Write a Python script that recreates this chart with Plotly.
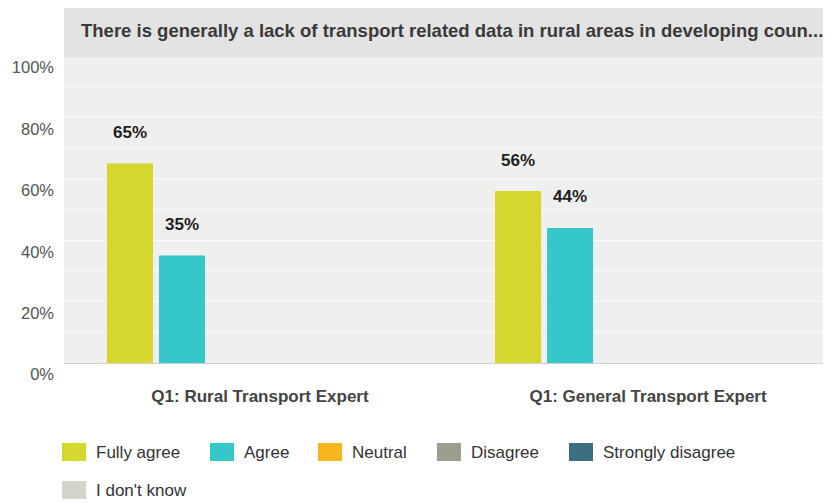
import plotly.graph_objects as go

# survey data
categories = ["Q1: Rural Transport Expert", "Q1: General Transport Expert"]
answers = ["Fully agree", "Agree", "Neutral", "Disagree", "Strongly disagree", "I don't know"]
fully_agree = [65, 56]
agree = [35, 44]
neutral = [0, 0]
disagree = [0, 0]
strongly_disagree = [0, 0]
dont_know = [0, 0]
series_values = [fully_agree, agree, neutral, disagree, strongly_disagree, dont_know]
colors = ["#d5d62e", "#35c7c9", "#f7b51e", "#9b9d8d", "#3b6e80", "#d5d5cc"]
y_ticks = [0, 20, 40, 60, 80, 100]
y_tick_labels = ["0%", "20%", "40%", "60%", "80%", "100%"]
title_text = "There is generally a lack of transport related data in rural areas in developing coun..."

W, H = 831, 503
OFF = 8  # page body margin of the browser
ML, MR, MT, MB = 64 - OFF, 0, 56 - OFF, H - (363 - OFF)
PLOT_W = W - ML - MR
PLOT_H = H - MT - MB
BARGAP = 0.196
XRANGE = [-0.505, 1.492]
FONT = "Liberation Sans, Arial, Helvetica, sans-serif"


# pixel positions measured on the screenshot -> paper coords
def px_x(p):
    return (p - OFF - ML) / PLOT_W


def px_y(p):
    return (H - MB - (p - OFF)) / PLOT_H


fig = go.Figure()
for name, vals, col in zip(answers, series_values, colors):
    fig.add_trace(go.Bar(name=name, x=categories, y=vals, marker_color=col,
                         marker_line_width=0, showlegend=False, hoverinfo="skip"))

# value labels above bars
cat_px = PLOT_W / (XRANGE[1] - XRANGE[0])
pitch = cat_px * (1 - BARGAP) / len(answers)
for i, vals in enumerate(series_values):
    for cat, v in zip(categories, vals):
        if v > 0:
            fig.add_annotation(x=cat, y=v, text="<b>%d%%</b>" % v, showarrow=False,
                               xshift=(i - 2.5) * pitch, yshift=31, yanchor="middle",
                               font=dict(family=FONT, size=17, color="#1e1e1e"))

# grey title band
fig.add_shape(type="rect", xref="paper", yref="paper", x0=0, x1=1,
              y0=px_y(57), y1=px_y(7), fillcolor="#e3e3e3", line_width=0, layer="above")
fig.add_annotation(xref="paper", yref="paper", x=px_x(79), y=px_y(31), xanchor="left",
                   yanchor="middle", showarrow=False, text="<b>%s</b>" % title_text,
                   font=dict(family=FONT, size=18.5, color="#3a3a3a"))

# legend drawn by hand so the swatches match
leg_x = [62, 210, 318, 437, 569, 62]
leg_y = [452, 452, 452, 452, 452, 490]
for name, col, lx, ly in zip(answers, colors, leg_x, leg_y):
    fig.add_shape(type="rect", xref="paper", yref="paper", x0=px_x(lx), x1=px_x(lx + 24),
                  y0=px_y(ly + 9), y1=px_y(ly - 9), fillcolor=col, line_width=0)
    fig.add_annotation(xref="paper", yref="paper", x=px_x(lx + 32), y=px_y(ly),
                       xanchor="left", yanchor="middle", showarrow=False, text=name,
                       font=dict(family=FONT, size=17, color="#333333"))

fig.update_layout(
    width=W, height=H,
    margin=dict(l=ML, r=MR, t=MT, b=MB),
    barmode="group", bargap=BARGAP, bargroupgap=0.115,
    plot_bgcolor="#efefef", paper_bgcolor="white",
    font=dict(family=FONT),
)
fig.update_xaxes(range=XRANGE, showgrid=False, showline=True, linecolor="#d0d0d0",
                 linewidth=1, ticks="", ticklabelstandoff=18,
                 tickfont=dict(family=FONT, size=17, color="#444444"),
                 tickprefix="<b>", ticksuffix="</b>")
fig.update_yaxes(range=[0, 100], tickvals=y_ticks, ticktext=y_tick_labels,
                 ticklabelposition="outside bottom", ticks="", ticklabelstandoff=9,
                 tickfont=dict(family=FONT, size=16.5, color="#555555"),
                 showgrid=True, gridcolor="#fafafa", gridwidth=1,
                 minor=dict(dtick=10, showgrid=True, gridcolor="#fafafa", gridwidth=1),
                 zeroline=False)

fig.write_html("out.html")
